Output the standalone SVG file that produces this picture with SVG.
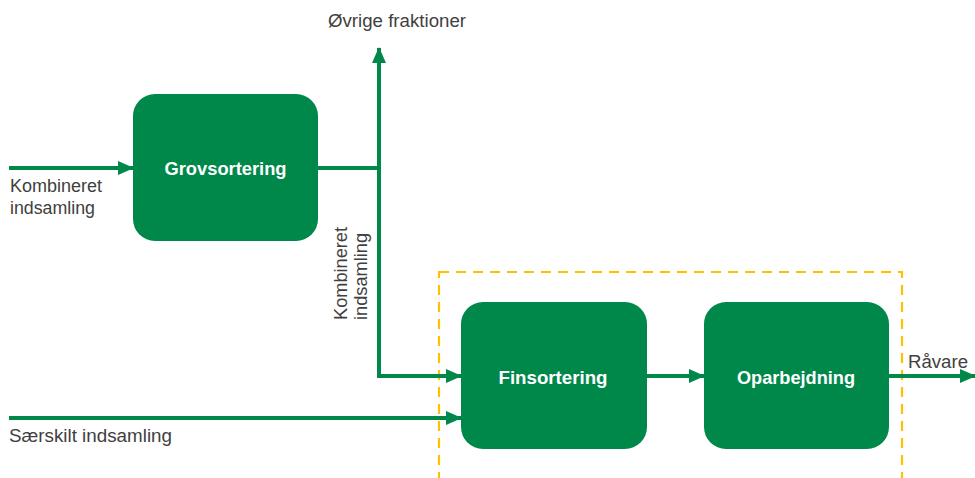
<svg xmlns="http://www.w3.org/2000/svg" width="975" height="478" viewBox="0 0 975 478">
  <style>
    .box { fill: #00884B; }
    .boxlabel { font-family: "Liberation Sans", Arial, sans-serif; font-weight: bold; font-size: 18.5px; fill: #FFFFFF; text-anchor: middle; }
    .label { font-family: "Liberation Sans", Arial, sans-serif; font-size: 17.5px; fill: #404040; }
    .flow { fill: none; stroke: #00884B; stroke-width: 4; marker-end: url(#arrow); }
    .zone { fill: none; stroke: #FFC000; stroke-width: 2.2; stroke-dasharray: 10 7; }
  </style>
  <defs>
    <marker id="arrow" markerUnits="userSpaceOnUse" markerWidth="16" markerHeight="14" refX="15" refY="7" orient="auto">
      <path d="M0,0 L16,7 L0,14 Z" fill="#00884B"/>
    </marker>
  </defs>

  <rect width="975" height="478" fill="#FFFFFF"/>

  <!-- processing zone -->
  <rect class="zone" x="439" y="272" width="463" height="220"/>

  <g id="connectors">
    <!-- combined collection into coarse sorting -->
    <path class="flow" d="M9,168 L133,168"/>
    <!-- coarse sorting out to junction, up to other fractions -->
    <path d="M318,168 L379,168" fill="none" stroke="#00884B" stroke-width="4"/>
    <path class="flow" d="M379,170 L379,48"/>
    <!-- junction down and into fine sorting -->
    <path class="flow" d="M379,166 L379,376 L461,376"/>
    <!-- separate collection into fine sorting -->
    <path class="flow" d="M9,418 L461,418"/>
    <!-- fine sorting to processing -->
    <path class="flow" d="M647,376 L704,376"/>
    <!-- processing to raw material -->
    <path class="flow" d="M889,376 L975,376"/>
  </g>

  <g id="grovsortering">
    <rect class="box" x="133" y="94" width="185" height="147" rx="22" ry="22"/>
    <text class="boxlabel" x="225.5" y="174.5" textLength="122" lengthAdjust="spacingAndGlyphs">Grovsortering</text>
  </g>

  <g id="finsortering">
    <rect class="box" x="461" y="302" width="186" height="147" rx="22" ry="22"/>
    <text class="boxlabel" x="553" y="383.5" textLength="109" lengthAdjust="spacingAndGlyphs">Finsortering</text>
  </g>

  <g id="oparbejdning">
    <rect class="box" x="704" y="302" width="185" height="147" rx="22" ry="22"/>
    <text class="boxlabel" x="796" y="383.5" textLength="118" lengthAdjust="spacingAndGlyphs">Oparbejdning</text>
  </g>

  <g id="labels">
    <text class="label" x="10" y="192" textLength="92" lengthAdjust="spacingAndGlyphs">Kombineret</text>
    <text class="label" x="10" y="214" textLength="85" lengthAdjust="spacingAndGlyphs">indsamling</text>
    <text class="label" x="9" y="442" textLength="163" lengthAdjust="spacingAndGlyphs">Særskilt indsamling</text>
    <text class="label" x="328" y="27" textLength="138" lengthAdjust="spacingAndGlyphs">Øvrige fraktioner</text>
    <text class="label" x="908" y="368" textLength="60" lengthAdjust="spacingAndGlyphs">Råvare</text>
    <text class="label" transform="translate(347,320) rotate(-90)" x="0" y="0" textLength="93" lengthAdjust="spacingAndGlyphs">Kombineret</text>
    <text class="label" transform="translate(367,320) rotate(-90)" x="0" y="0" textLength="87" lengthAdjust="spacingAndGlyphs">indsamling</text>
  </g>
</svg>
